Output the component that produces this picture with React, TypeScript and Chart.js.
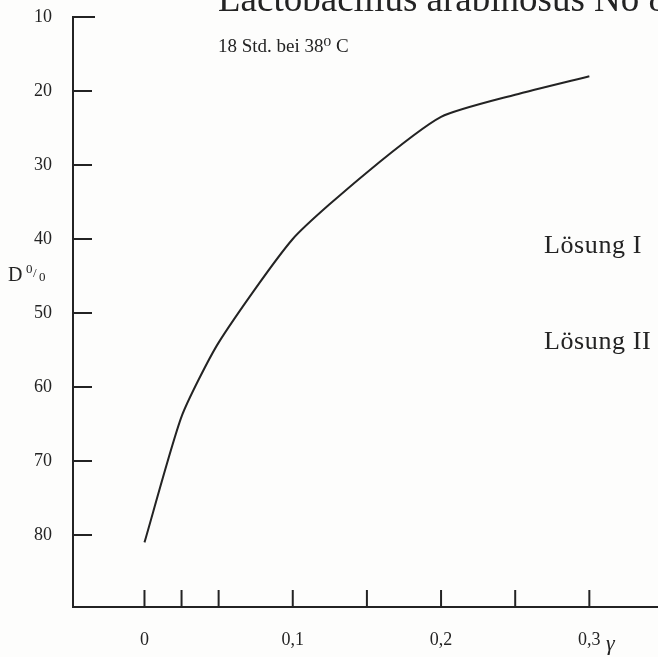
import React, { useEffect, useRef } from "react";
import { Chart, registerables } from "chart.js";

Chart.register(...registerables);

// Data
const gammaValues = [0, 0.025, 0.05, 0.1, 0.15, 0.2, 0.25, 0.3];
const dValues = [81, 64, 54, 40, 31, 23.5, 20.5, 18];

const xLabelValues = [0, 0.1, 0.2, 0.3];
const xTickMarks = [0, 0.025, 0.05, 0.1, 0.15, 0.2, 0.25, 0.3];
const yTickValues = [10, 20, 30, 40, 50, 60, 70, 80];

const titleText = "Lactobacillus arabinosus No 8";
const subtitleText = "18 Std. bei 38\u2070 C";
const solutionLabels = ["L\u00f6sung I", "L\u00f6sung II"];
const yAxisLabel = "D";
const xAxisLabel = "\u03b3";

const INK = "#232323";
const SERIF = "'Liberation Serif', 'DejaVu Serif', serif";

const decorPlugin = {
  id: "decor",
  afterDraw(chart: any) {
    const ctx = chart.ctx as CanvasRenderingContext2D;
    const xs = chart.scales.x;
    const ys = chart.scales.y;
    const area = chart.chartArea;
    ctx.save();
    ctx.strokeStyle = INK;
    ctx.lineWidth = 2;
    // inward y ticks
    yTickValues.forEach((v, i) => {
      const py = ys.getPixelForValue(v);
      ctx.beginPath();
      ctx.moveTo(area.left, py);
      ctx.lineTo(area.left + (i === 0 ? 22 : 19), py);
      ctx.stroke();
    });
    // inward x ticks
    xTickMarks.forEach((v) => {
      const px = xs.getPixelForValue(v);
      ctx.beginPath();
      ctx.moveTo(px, area.bottom);
      ctx.lineTo(px, area.bottom - 17);
      ctx.stroke();
    });

    ctx.fillStyle = INK;
    ctx.textBaseline = "alphabetic";
    ctx.textAlign = "left";
    // title (cut at top)
    ctx.font = `37px ${SERIF}`;
    (ctx as any).letterSpacing = "0px";
    ctx.fillText(titleText, 218, 11);
    // subtitle
    ctx.font = `19px ${SERIF}`;
    ctx.fillText(subtitleText, 218, 52);
    // solution labels
    ctx.font = `26px ${SERIF}`;
    (ctx as any).letterSpacing = "0.6px";
    ctx.fillText(solutionLabels[0], 544, 253);
    ctx.fillText(solutionLabels[1], 544, 349);
    (ctx as any).letterSpacing = "0px";
    // D %
    ctx.font = `20px ${SERIF}`;
    ctx.fillText(yAxisLabel, 8, 281);
    ctx.font = `13px ${SERIF}`;
    ctx.fillText("0", 26, 273);
    ctx.fillText("/", 33, 277);
    ctx.fillText("0", 39, 281);
    // gamma
    ctx.font = `italic 22px ${SERIF}`;
    ctx.fillText(xAxisLabel, 606, 650);
    ctx.restore();
  },
};

export default function App() {
  const ref = useRef<HTMLCanvasElement | null>(null);
  useEffect(() => {
    if (!ref.current) return;
    const chart = new Chart(ref.current, {
      type: "line",
      data: {
        datasets: [
          {
            data: gammaValues.map((g, i) => ({ x: g, y: dValues[i] })),
            borderColor: INK,
            borderWidth: 2,
            pointRadius: 0,
            tension: 0.2,
            fill: false,
          },
        ],
      },
      options: {
        responsive: false,
        animation: false,
        layout: { padding: { top: 17, left: 0, right: 0, bottom: 0 } },
        plugins: {
          legend: { display: false },
          tooltip: { enabled: false },
          title: { display: false },
        },
        scales: {
          x: {
            type: "linear",
            min: -0.0482,
            max: 0.3463,
            afterFit: (s: any) => {
              s.height = 50;
              s.paddingLeft = 0;
              s.paddingRight = 0;
            },
            afterBuildTicks: (s: any) => {
              s.ticks = xLabelValues.map((v) => ({ value: v }));
            },
            grid: { display: false, drawTicks: false },
            border: { display: true, color: INK, width: 2 },
            ticks: {
              padding: 22,
              color: INK,
              font: { family: SERIF, size: 18 },
              callback: (v: any) => String(v).replace(".", ","),
            },
          },
          y: {
            type: "linear",
            reverse: true,
            min: 10,
            max: 89.73,
            afterFit: (s: any) => {
              s.width = 73;
              s.paddingTop = 0;
              s.paddingBottom = 0;
            },
            afterBuildTicks: (s: any) => {
              s.ticks = yTickValues.map((v) => ({ value: v }));
            },
            grid: { display: false, drawTicks: false },
            border: { display: true, color: INK, width: 2 },
            ticks: {
              padding: 21,
              color: INK,
              font: { family: SERIF, size: 18 },
            },
          },
        },
      },
      plugins: [decorPlugin],
    });
    return () => chart.destroy();
  }, []);
  return (
    <div style={{ position: "absolute", left: 0, top: 0, width: 658, height: 657, background: "#fdfdfc" }}>
      <canvas ref={ref} width={658} height={657} />
    </div>
  );
}
